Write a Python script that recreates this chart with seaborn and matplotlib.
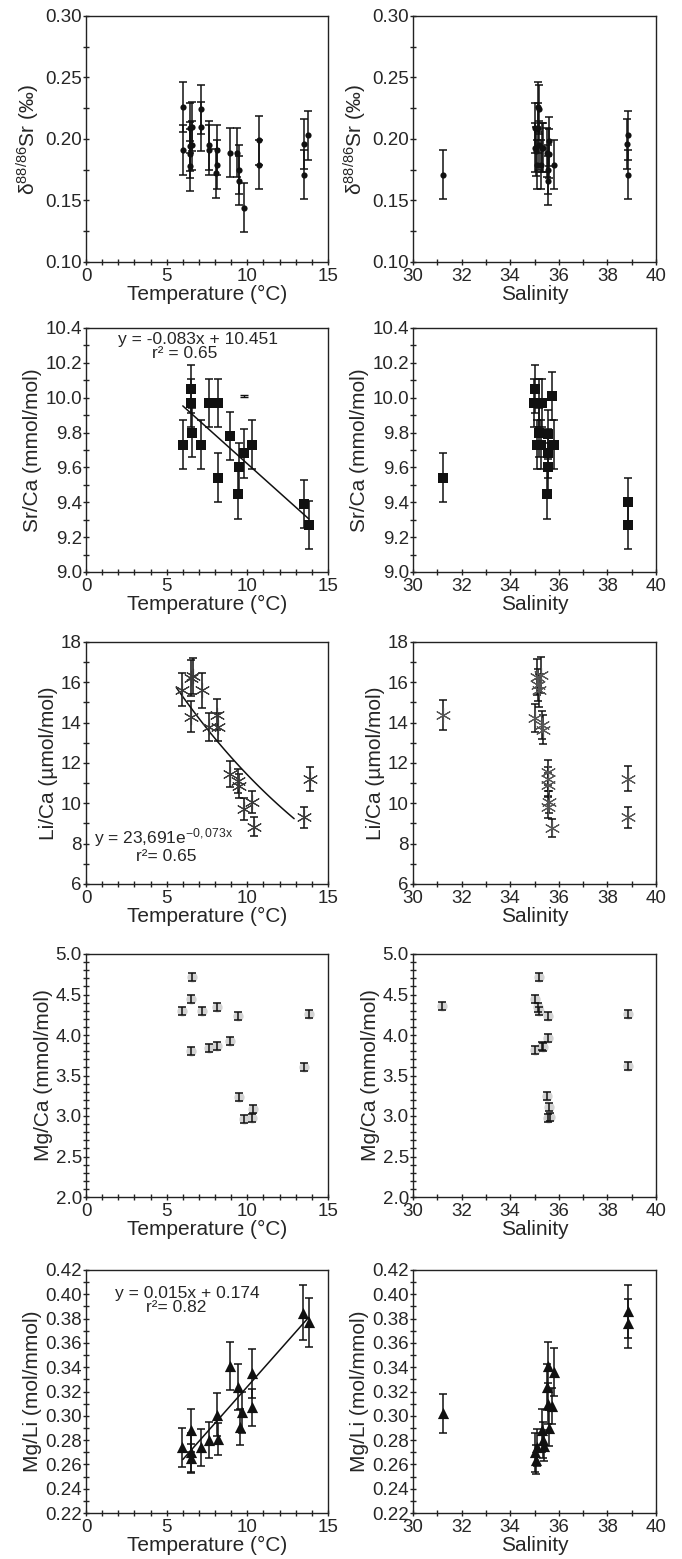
import numpy as np
import pandas as pd
import matplotlib
matplotlib.use('Agg')
import matplotlib.pyplot as plt
from matplotlib.ticker import MultipleLocator, FormatStrFormatter
import seaborn as sns

# d88/86Sr vs temperature and salinity
d88_temp = [6.0, 6.0, 6.45, 6.45, 6.45, 6.45, 6.55, 6.55, 7.15, 7.15, 7.6, 7.6, 8.05,
            8.15, 8.15, 8.9, 9.35, 9.5, 9.5, 9.8, 10.75, 10.75, 13.5, 13.5, 13.75]
d88_temp_y = [0.226, 0.191, 0.209, 0.194, 0.188, 0.178, 0.210, 0.195, 0.224, 0.210, 0.195, 0.191, 0.172,
              0.191, 0.179, 0.189, 0.189, 0.175, 0.166, 0.144, 0.199, 0.179, 0.196, 0.171, 0.203]
d88_sal = [31.25, 35.0, 35.0, 35.05, 35.1, 35.15, 35.15, 35.2, 35.2, 35.25, 35.3, 35.35,
           35.5, 35.55, 35.55, 35.6, 35.6, 35.8, 38.8, 38.85, 38.85]
d88_sal_y = [0.171, 0.209, 0.193, 0.190, 0.179, 0.226, 0.209, 0.224, 0.195, 0.179, 0.193, 0.193,
             0.189, 0.175, 0.166, 0.198, 0.188, 0.179, 0.196, 0.203, 0.171]
d88_err = 0.02

# Sr/Ca
srca_temp = [6.0, 6.5, 6.5, 6.55, 7.15, 7.6, 8.2, 8.2, 8.9, 9.4, 9.5, 9.8, 10.3, 13.5, 13.8]
srca_temp_y = [9.73, 10.05, 9.97, 9.80, 9.73, 9.97, 9.97, 9.54, 9.78, 9.445, 9.60, 9.68, 9.73, 9.39, 9.27]
srca_sal = [31.25, 35.0, 34.98, 35.2, 35.3, 35.1, 35.2, 35.25, 35.7, 35.55, 35.55, 35.55, 35.52, 35.8, 38.85, 38.85]
srca_sal_y = [9.54, 10.05, 9.97, 9.97, 9.97, 9.73, 9.80, 9.73, 10.01, 9.79, 9.68, 9.60, 9.445, 9.73, 9.40, 9.27]
srca_err = 0.14
srca_stray = (9.8, 10.01, 0.006)

# Li/Ca
lica_temp = [5.95, 6.5, 6.5, 6.65, 7.2, 7.65, 8.1, 8.2, 8.9, 9.4, 9.5, 9.8, 10.3, 10.4, 13.5, 13.9]
lica_temp_y = [15.64, 14.3, 16.2, 16.33, 15.6, 13.8, 14.4, 13.8, 11.45, 11.1, 10.85, 9.7, 10.05, 8.85, 9.3, 11.22]
lica_temp_err = [0.8, 0.75, 0.9, 0.9, 0.85, 0.7, 0.75, 0.7, 0.65, 0.6, 0.6, 0.55, 0.55, 0.45, 0.5, 0.6]
lica_sal = [31.25, 35.0, 35.1, 35.25, 35.15, 35.2, 35.3, 35.35, 35.55, 35.55, 35.55, 35.55, 35.6, 35.7, 38.85, 38.85]
lica_sal_y = [14.37, 14.25, 16.27, 16.35, 15.85, 15.6, 13.87, 13.66, 11.53, 11.2, 10.9, 9.83, 10.07, 8.79, 11.23, 9.3]
lica_sal_err = [0.75, 0.7, 0.9, 0.9, 0.8, 0.8, 0.7, 0.7, 0.6, 0.6, 0.6, 0.55, 0.55, 0.45, 0.6, 0.5]

# Mg/Ca
mgca_temp = [5.95, 6.5, 6.5, 6.6, 7.2, 7.6, 8.15, 8.15, 8.9, 9.4, 9.5, 9.8, 10.3, 10.35, 13.5, 13.85]
mgca_temp_y = [4.30, 4.45, 3.80, 4.72, 4.30, 3.84, 4.35, 3.865, 3.93, 4.24, 3.24, 2.96, 2.98, 3.09, 3.61, 4.26]
mgca_sal = [31.2, 35.2, 35.0, 35.15, 35.2, 35.55, 35.55, 35.0, 35.3, 35.35, 35.5, 35.6, 35.55, 35.65, 38.85, 38.85]
mgca_sal_y = [4.36, 4.72, 4.45, 4.34, 4.30, 4.24, 3.96, 3.82, 3.86, 3.85, 3.25, 3.11, 2.97, 2.99, 4.26, 3.62]
mgca_err = 0.05

# Mg/Li
mgli_temp = [5.95, 6.5, 6.5, 6.5, 7.15, 7.6, 8.1, 8.2, 8.9, 9.4, 9.55, 9.7, 10.3, 10.3, 13.45, 13.8]
mgli_temp_y = [0.274, 0.288, 0.270, 0.265, 0.274, 0.280, 0.301, 0.281, 0.341, 0.324, 0.291, 0.303, 0.335, 0.307, 0.385, 0.377]
mgli_temp_err = [0.016, 0.018, 0.016, 0.012, 0.015, 0.015, 0.018, 0.013, 0.02, 0.019, 0.015, 0.017, 0.02, 0.015, 0.023, 0.02]
mgli_sal = [31.25, 35.0, 35.05, 35.1, 35.3, 35.35, 35.4, 35.55, 35.5, 35.8, 35.55, 35.7, 35.6, 38.85, 38.85]
mgli_sal_y = [0.302, 0.270, 0.264, 0.274, 0.288, 0.280, 0.2755, 0.341, 0.324, 0.336, 0.310, 0.308, 0.290, 0.386, 0.376]
mgli_sal_err = [0.016, 0.016, 0.012, 0.015, 0.018, 0.015, 0.013, 0.02, 0.019, 0.02, 0.017, 0.015, 0.015, 0.022, 0.02]

sns.set_style('ticks')
plt.rcParams['font.family'] = ['Liberation Sans', 'DejaVu Sans']
plt.rcParams['mathtext.fontset'] = 'custom'
plt.rcParams['mathtext.rm'] = 'Liberation Sans'
plt.rcParams['mathtext.it'] = 'Liberation Sans:italic'
plt.rcParams['axes.linewidth'] = 1.0
plt.rcParams['axes.edgecolor'] = '#222222'

fig = plt.figure(figsize=(6.82, 15.59), dpi=100)

W, H = 682.0, 1559.0
col_left = [86, 413]
col_w = [242, 243]
rows = [(16, 262), (328, 572), (642, 884), (954, 1197), (1270, 1513)]


def make_ax(r, c):
    top, bot = rows[r]
    return fig.add_axes([col_left[c] / W, 1 - bot / H, col_w[c] / W, (bot - top) / H])


def style(ax, xlim, ylim, xmaj, xmin, ymaj, ymin, yfmt, xlabel, ylabel):
    ax.set_xlim(*xlim)
    ax.set_ylim(*ylim)
    ax.xaxis.set_major_locator(MultipleLocator(xmaj))
    ax.xaxis.set_minor_locator(MultipleLocator(xmin))
    ax.yaxis.set_major_locator(MultipleLocator(ymaj))
    ax.yaxis.set_minor_locator(MultipleLocator(ymin))
    ax.yaxis.set_major_formatter(FormatStrFormatter(yfmt))
    ax.tick_params(which='both', direction='inout', length=5, width=1, color='#222222',
                   labelsize=13.5, pad=1, top=False, right=False)
    ax.tick_params(which='minor', length=4)
    ax.tick_params(axis='x', pad=2)
    ax.tick_params(axis='y', pad=0.5)
    ax.set_xlabel(xlabel, fontsize=15, labelpad=0)
    ax.set_ylabel(ylabel, fontsize=15, labelpad=2)


def draw(ax, x, y, err, marker, size, color, ec=None, alpha=1.0, under=False):
    df = pd.DataFrame({'x': x, 'y': y})
    ax.errorbar(df['x'], df['y'], yerr=err, fmt='none', ecolor='#111111',
                elinewidth=1.1, capsize=3, capthick=1.1, zorder=4 if under else 2)
    sns.scatterplot(data=df, x='x', y='y', ax=ax, marker=marker, s=size, color=color,
                    edgecolor=ec if ec else color, linewidth=0.8 if ec else 0,
                    alpha=alpha, zorder=3)


temp_lab = 'Temperature (°C)'
sal_lab = 'Salinity'
d88_lab = 'δ$^{\\mathregular{88/86}}$Sr (‰)'

# row 1
ax = make_ax(0, 0)
draw(ax, d88_temp, d88_temp_y, d88_err, 'o', 20, '#111111')
style(ax, (0, 15), (0.10, 0.30), 5, 1, 0.05, 0.025, '%.2f', temp_lab, d88_lab)
ax = make_ax(0, 1)
draw(ax, d88_sal, d88_sal_y, d88_err, 'o', 20, '#111111')
style(ax, (30, 40), (0.10, 0.30), 2, 1, 0.05, 0.025, '%.2f', sal_lab, d88_lab)

# row 2
ax = make_ax(1, 0)
draw(ax, srca_temp, srca_temp_y, srca_err, 's', 60, '#111111')
ax.errorbar([srca_stray[0]], [srca_stray[1]], yerr=srca_stray[2], fmt='none',
            ecolor='#111111', elinewidth=1, capsize=3)
fx = np.linspace(6.0, 13.8, 50)
sns.lineplot(x=fx, y=-0.083 * fx + 10.451, ax=ax, color='#111111', linewidth=1.1)
ax.text(6.95, 10.335, 'y = -0.083x + 10.451', ha='center', va='center', fontsize=12.5)
ax.text(6.1, 10.255, 'r² = 0.65', ha='center', va='center', fontsize=12.5)
style(ax, (0, 15), (9.0, 10.4), 5, 1, 0.2, 0.1, '%.1f', temp_lab, 'Sr/Ca (mmol/mol)')
ax = make_ax(1, 1)
draw(ax, srca_sal, srca_sal_y, srca_err, 's', 60, '#111111')
style(ax, (30, 40), (9.0, 10.4), 2, 1, 0.2, 0.1, '%.1f', sal_lab, 'Sr/Ca (mmol/mol)')

# row 3
ax = make_ax(2, 0)
draw(ax, lica_temp, lica_temp_y, lica_temp_err, (6, 2, 0), 110, '#3a3a3a', ec='#3a3a3a')
fx = np.linspace(5.6, 12.9, 50)
sns.lineplot(x=fx, y=23.691 * np.exp(-0.073 * fx), ax=ax, color='#111111', linewidth=1.1)
ax.text(4.8, 8.3, 'y = 23,691e$^{\\mathregular{-0,073x}}$', ha='center', va='center', fontsize=12.5)
ax.text(5.0, 7.35, 'r²= 0.65', ha='center', va='center', fontsize=12.5)
style(ax, (0, 15), (6, 18), 5, 1, 2, 1, '%d', temp_lab, 'Li/Ca (µmol/mol)')
ax = make_ax(2, 1)
draw(ax, lica_sal, lica_sal_y, lica_sal_err, (6, 2, 0), 110, '#555555', ec='#555555')
style(ax, (30, 40), (6, 18), 2, 1, 2, 1, '%d', sal_lab, 'Li/Ca (µmol/mol)')

# row 4
ax = make_ax(3, 0)
draw(ax, mgca_temp, mgca_temp_y, mgca_err, 'o', 55, '#cfcfcf', alpha=0.9, under=True)
style(ax, (0, 15), (2.0, 5.0), 5, 1, 0.5, 0.1, '%.1f', temp_lab, 'Mg/Ca (mmol/mol)')
ax = make_ax(3, 1)
draw(ax, mgca_sal, mgca_sal_y, mgca_err, 'o', 55, '#cfcfcf', alpha=0.9, under=True)
style(ax, (30, 40), (2.0, 5.0), 2, 1, 0.5, 0.1, '%.1f', sal_lab, 'Mg/Ca (mmol/mol)')

# row 5
ax = make_ax(4, 0)
draw(ax, mgli_temp, mgli_temp_y, mgli_temp_err, '^', 65, '#111111')
fx = np.linspace(6.0, 13.8, 50)
sns.lineplot(x=fx, y=0.015 * fx + 0.174, ax=ax, color='#111111', linewidth=1.1)
ax.text(6.3, 0.4005, 'y = 0.015x + 0.174', ha='center', va='center', fontsize=12.5)
ax.text(5.6, 0.389, 'r²= 0.82', ha='center', va='center', fontsize=12.5)
style(ax, (0, 15), (0.22, 0.42), 5, 1, 0.02, 0.01, '%.2f', temp_lab, 'Mg/Li (mol/mmol)')
ax = make_ax(4, 1)
draw(ax, mgli_sal, mgli_sal_y, mgli_sal_err, '^', 65, '#111111')
style(ax, (30, 40), (0.22, 0.42), 2, 1, 0.02, 0.01, '%.2f', sal_lab, 'Mg/Li (mol/mmol)')

fig.savefig('out.png', dpi=100)
